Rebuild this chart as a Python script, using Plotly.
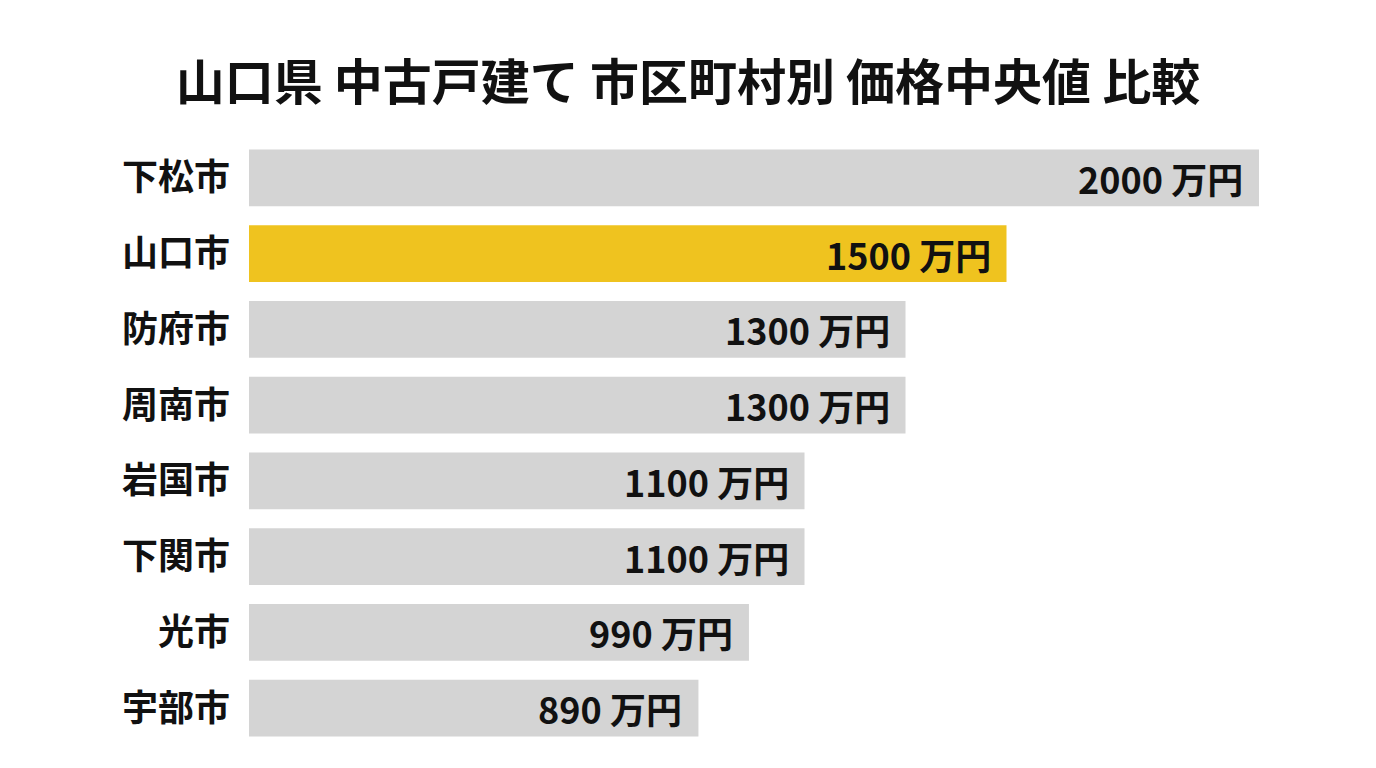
import plotly.graph_objects as go

cities = ["下松市", "山口市", "防府市", "周南市", "岩国市", "下関市", "光市", "宇部市"]
prices = [2000, 1500, 1300, 1300, 1100, 1100, 990, 890]
highlight = "山口市"

GREY = "#d4d4d4"
YELLOW = "#efc31f"
FONT = "Noto Sans CJK JP"

colors = [YELLOW if c == highlight else GREY for c in cities]

fig = go.Figure()
fig.add_trace(
    go.Bar(
        x=prices,
        y=cities,
        orientation="h",
        marker=dict(color=colors, line=dict(width=0)),
        hoverinfo="skip",
    )
)

# value labels at the end of each bar
for c, p in zip(cities, prices):
    fig.add_annotation(
        x=p,
        y=c,
        xref="x",
        yref="y",
        text=f"{p} 万円",
        showarrow=False,
        xanchor="right",
        xshift=-14,
        font=dict(family=FONT, size=36, color="#111111", weight="bold"),
    )

# page body adds 8px offset, so margins are set 8px smaller on left/top
fig.update_layout(
    width=1376,
    height=768,
    paper_bgcolor="white",
    plot_bgcolor="white",
    showlegend=False,
    bargap=0.25,
    margin=dict(l=241, r=125, t=132, b=30),
    title=dict(
        text="山口県 中古戸建て 市区町村別 価格中央値 比較",
        x=(688 - 8) / 1376,
        xref="container",
        xanchor="center",
        y=1 - 75 / 768,
        yref="container",
        yanchor="middle",
        font=dict(family=FONT, size=49, color="#111111", weight="bold"),
    ),
    xaxis=dict(
        range=[0, 2000],
        visible=False,
        showgrid=False,
        zeroline=False,
    ),
    yaxis=dict(
        autorange="reversed",
        showgrid=False,
        zeroline=False,
        showline=False,
        ticks="",
        ticklabelstandoff=18,
        tickfont=dict(family=FONT, size=36, color="#111111", weight="bold"),
    ),
)

fig.write_html("out.html")
